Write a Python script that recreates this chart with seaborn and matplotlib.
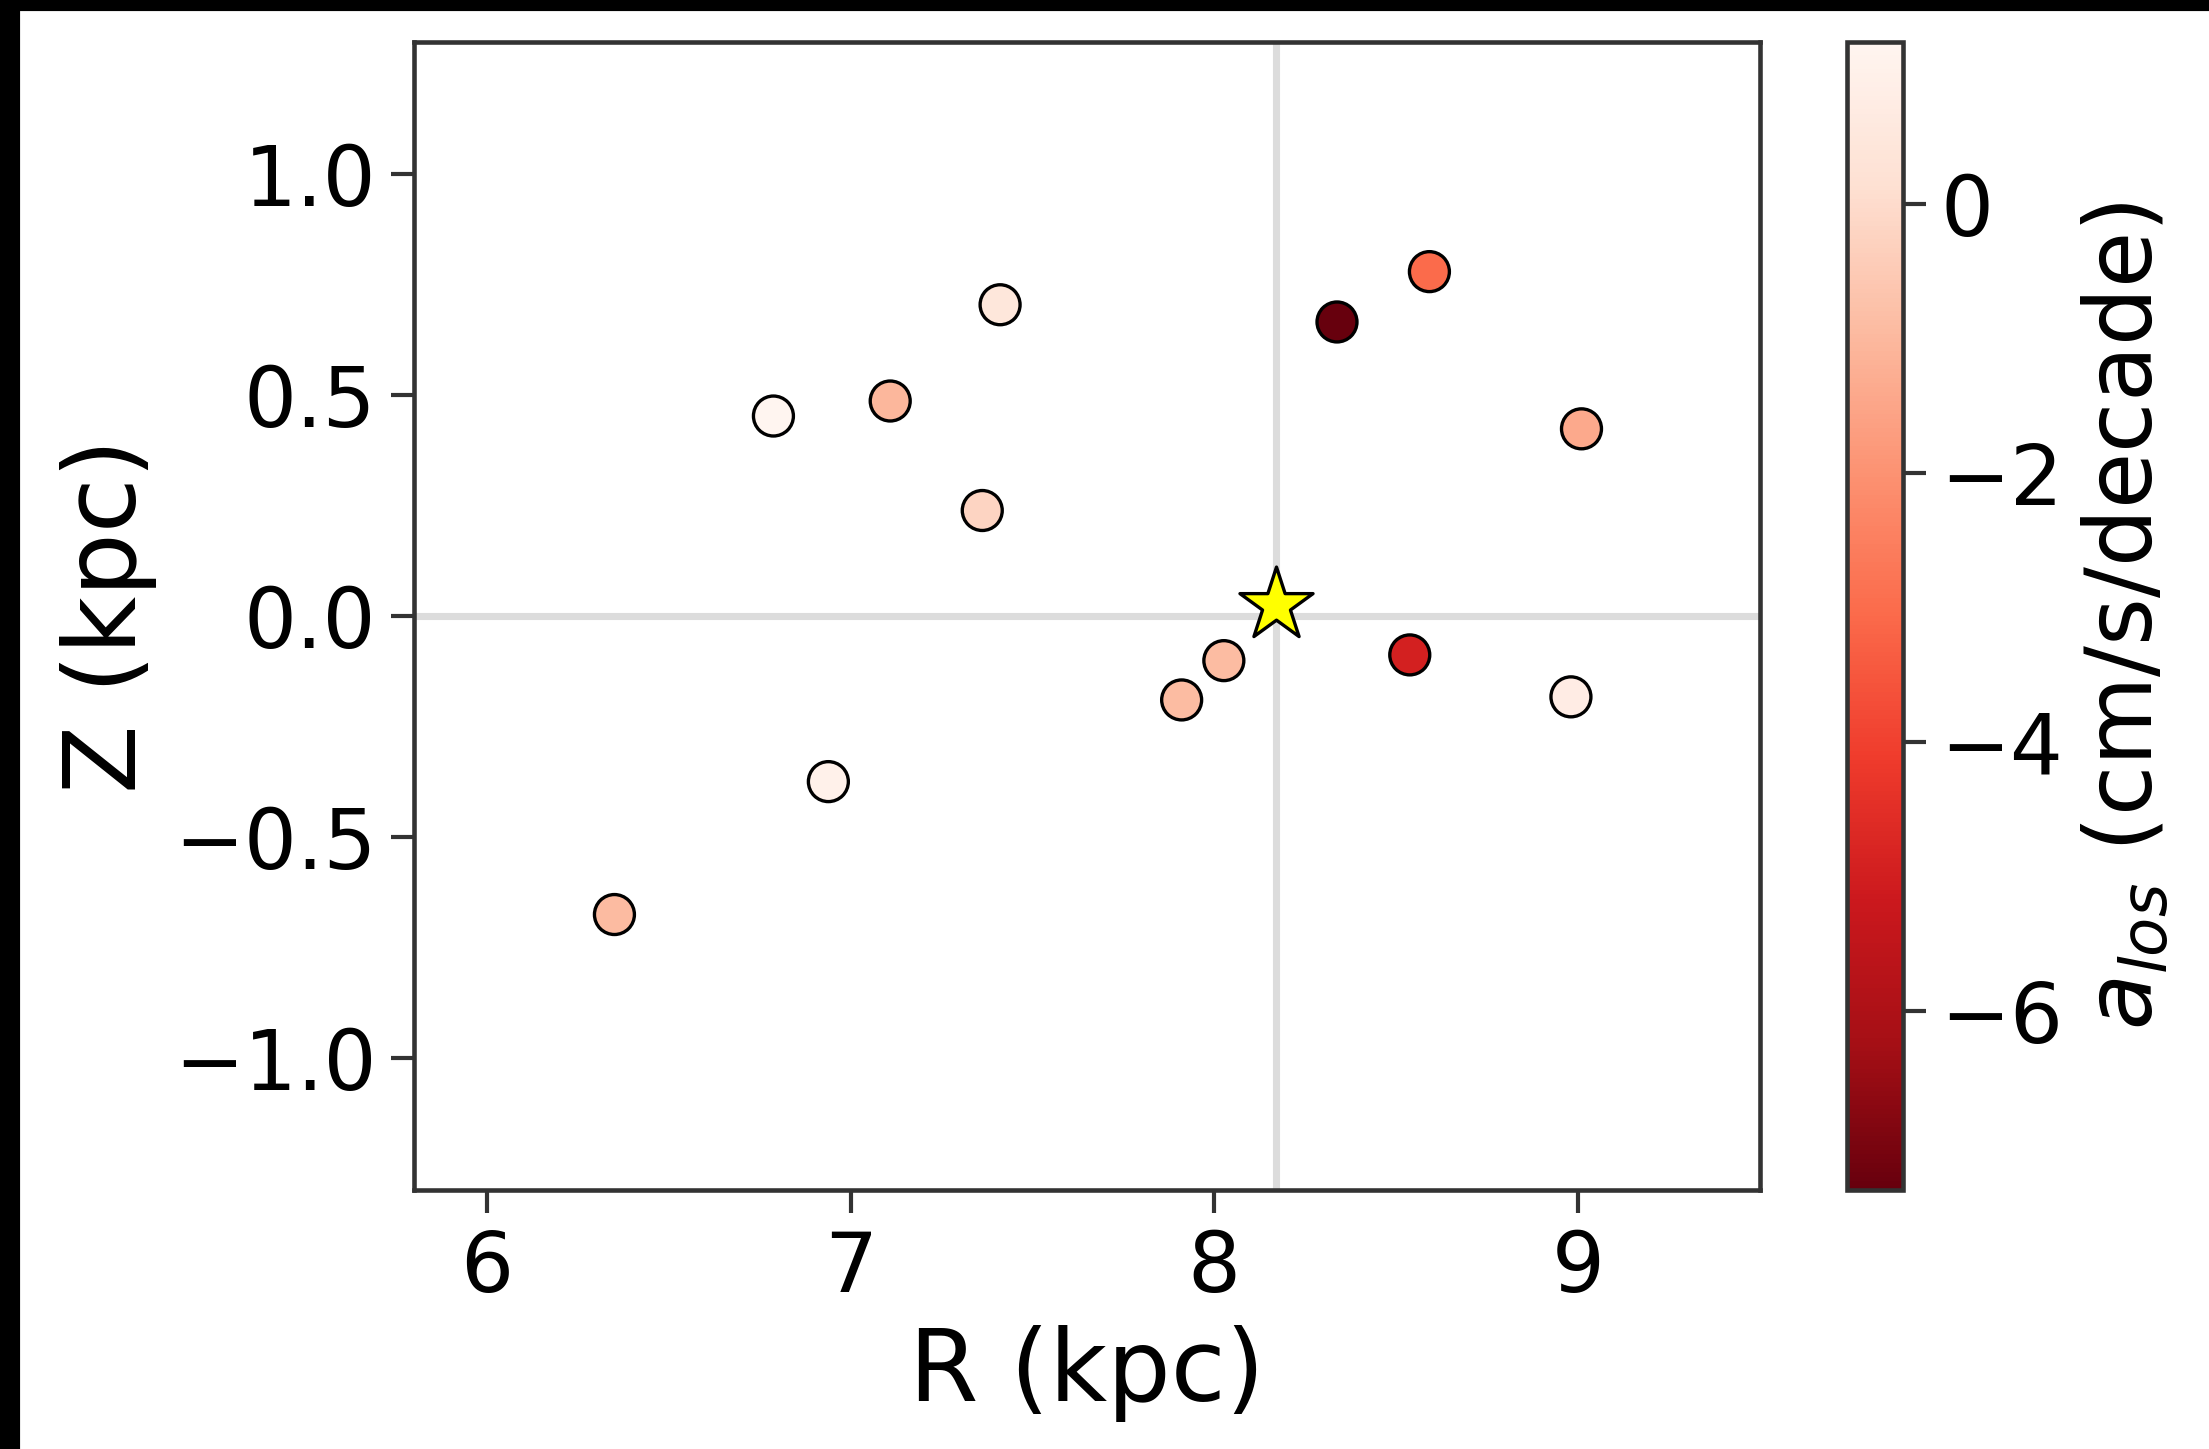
import matplotlib
matplotlib.use("Agg")
import matplotlib.pyplot as plt
from matplotlib.colors import Normalize
from matplotlib.cm import ScalarMappable
from matplotlib.patches import Rectangle
import numpy as np
import pandas as pd
import seaborn as sns

# Galactocentric positions of the sources and their line-of-sight accelerations
R_kpc = [6.351, 6.939, 6.788, 7.109, 7.411, 7.362, 7.910, 8.026,
         8.337, 8.591, 8.537, 9.009, 8.980]
Z_kpc = [-0.676, -0.375, 0.453, 0.487, 0.705, 0.239, -0.190, -0.101,
         0.666, 0.780, -0.088, 0.424, -0.183]
a_los = [-0.95, 1.00, 1.20, -1.05, 0.45, -0.20, -0.90, -0.90,
         -7.33, -3.05, -4.95, -1.40, 0.75]

# Sun position
R_sun = 8.17
Z_sun = 0.025

cbar_ticks = [-6, -4, -2, 0]

df = pd.DataFrame({"R": R_kpc, "Z": Z_kpc, "a": a_los})

sns.set_theme(style="ticks")
plt.rcParams.update({
    "font.family": ["DejaVu Sans"],
    "text.color": "black",
    "axes.labelcolor": "black",
    "axes.edgecolor": "#333333",
    "axes.linewidth": 1.1,
    "xtick.color": "#333333",
    "ytick.color": "#333333",
    "xtick.labelcolor": "black",
    "ytick.labelcolor": "black",
    "xtick.major.size": 5.5,
    "ytick.major.size": 5.5,
    "xtick.major.width": 1.0,
    "ytick.major.width": 1.0,
    "xtick.labelsize": 20,
    "ytick.labelsize": 20,
    "axes.labelsize": 24,
    "mathtext.fontset": "dejavusans",
})

dpi = 300
fig = plt.figure(figsize=(2209 / dpi, 1449 / dpi), dpi=dpi, facecolor="white")
ax = fig.add_axes([0.1874, 0.1787, 0.6094, 0.7923])
cax = fig.add_axes([0.8361, 0.1787, 0.0254, 0.7923])

vmin, vmax = min(a_los), max(a_los)
norm = Normalize(vmin=vmin, vmax=vmax)

ax.axvline(R_sun, color="#dcdcdc", lw=1.7, zorder=0)
ax.axhline(0.0, color="#dcdcdc", lw=1.7, zorder=0)

sns.scatterplot(data=df, x="R", y="Z", hue="a", palette="Reds_r",
                hue_norm=norm, s=92, edgecolor="black", linewidth=0.8,
                legend=False, ax=ax, zorder=3)

ax.scatter([R_sun], [Z_sun], marker="*", s=340, color="yellow",
           edgecolor="black", linewidth=0.8, zorder=4)

ax.set_xlim(5.8, 9.5)
ax.set_ylim(-1.3, 1.3)
ax.set_xticks([6, 7, 8, 9])
ax.set_yticks([-1.0, -0.5, 0.0, 0.5, 1.0])
ax.set_xlabel("R (kpc)", color="black")
ax.set_ylabel("Z (kpc)", color="black")

sm = ScalarMappable(norm=norm, cmap="Reds_r")
cb = fig.colorbar(sm, cax=cax)
cb.set_ticks(cbar_ticks)
cb.outline.set_edgecolor("#333333")
cb.outline.set_linewidth(1.1)
cb.ax.tick_params(labelsize=20, length=5.5, width=1.0, color="#333333",
                  labelcolor="black")
cb.set_label("$a_{los}$ (cm/s/decade)", fontsize=22, color="black")

# dark strips along the top and left edges of the canvas
fig.patches.append(Rectangle((0, 1 - 9 / 1449), 1, 9 / 1449,
                             transform=fig.transFigure, color="black", zorder=10))
fig.patches.append(Rectangle((0, 0), 18 / 2209, 1,
                             transform=fig.transFigure, color="black", zorder=10))

fig.savefig("out.png", dpi=dpi, facecolor="white")
